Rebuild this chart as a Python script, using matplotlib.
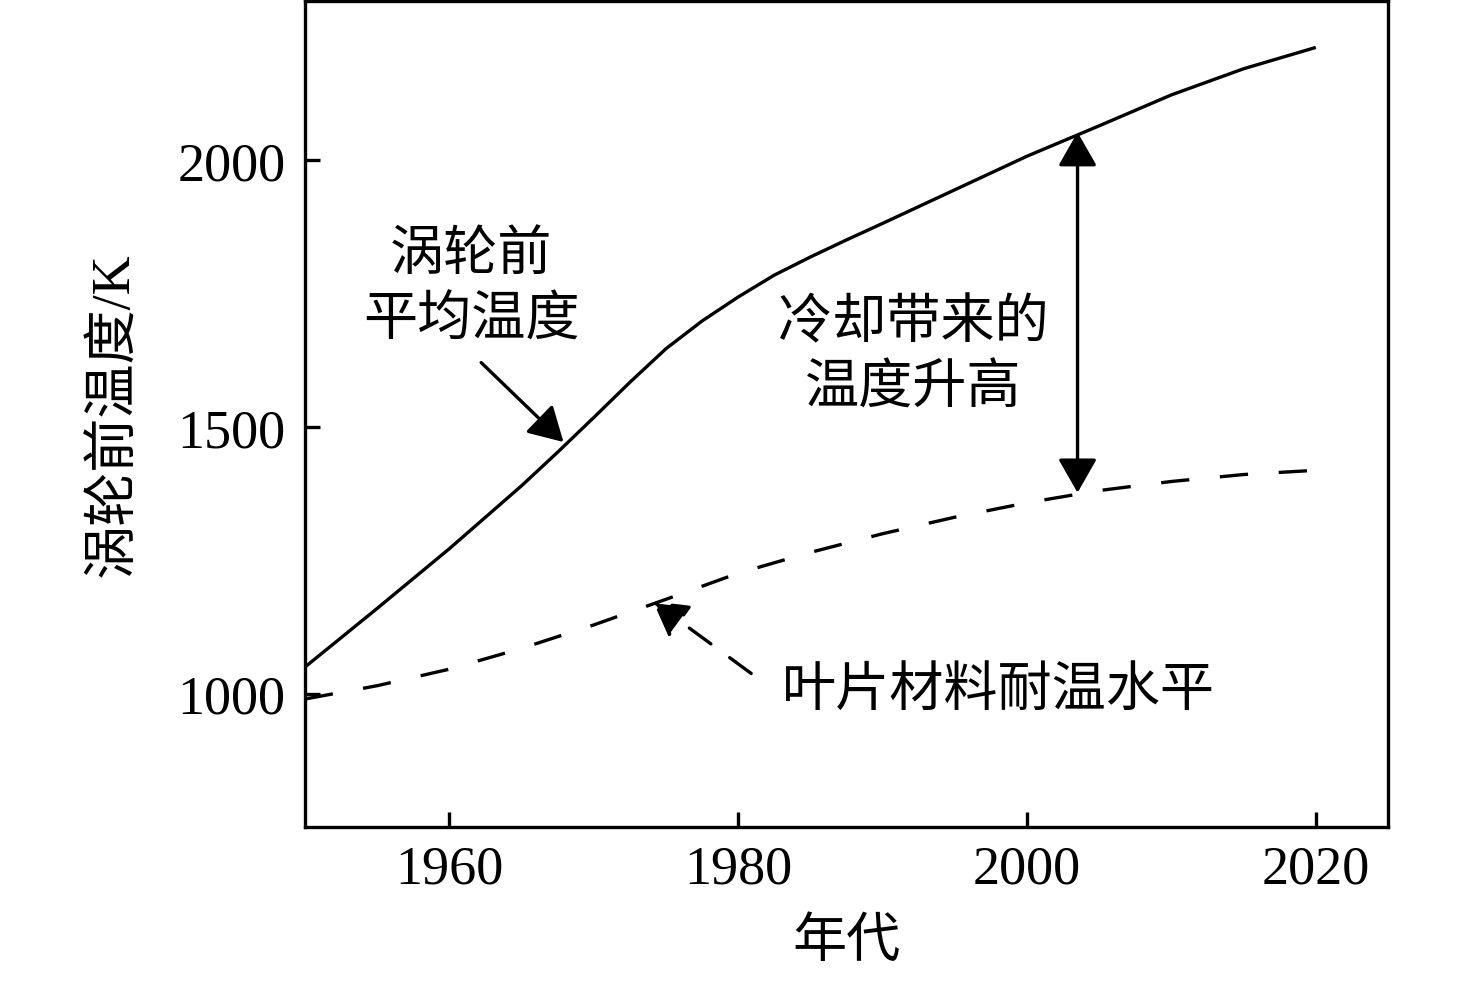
import matplotlib
matplotlib.use("Agg")
import matplotlib.pyplot as plt

plt.rcParams['font.family'] = ['Liberation Serif', 'Noto Sans CJK SC', 'DejaVu Sans']
plt.rcParams['axes.unicode_minus'] = False

# ---- data ----
years = [1950, 1955, 1960, 1965, 1967.5, 1970, 1972.5, 1975, 1977.5, 1980,
         1982.5, 1985, 1987.5, 1990, 1995, 2000, 2005, 2010, 2015, 2020]
turbine_inlet_temp = [1050, 1160, 1272, 1390, 1453, 1518, 1584, 1647, 1699, 1744,
                      1785, 1819, 1851, 1882, 1945, 2008, 2065, 2123, 2172, 2212]

blade_years = [1950, 1955, 1960, 1965, 1970, 1975, 1980, 1985, 1990, 1995,
               2000, 2005, 2010, 2015, 2020]
blade_material_temp = [990, 1015, 1046, 1085, 1129, 1177, 1226, 1265, 1300, 1331,
                       1358, 1381, 1398, 1411, 1419]

x_ticks = [1960, 1980, 2000, 2020]
y_ticks = [1000, 1500, 2000]
x_label = '年代'
y_label = '涡轮前温度/K'
label_tit = '涡轮前\n平均温度'
label_cool = '冷却带来的\n温度升高'
label_blade = '叶片材料耐温水平'

FS = 39
LW = 2.4

fig = plt.figure(figsize=(14.76, 9.87), dpi=100)
ax = fig.add_axes([305/1476, 1 - 828/987, (1388-305)/1476, (828-1.5)/987])

ax.plot(years, turbine_inlet_temp, color='black', lw=LW, solid_capstyle='butt',
        solid_joinstyle='round')
ax.plot(blade_years, blade_material_temp, color='black', lw=LW, dashes=(8.5, 9.2))

ax.set_xlim(1950, 2025)
ax.set_ylim(750, 2300)
ax.set_xticks(x_ticks)
ax.set_yticks(y_ticks)
ax.set_xticklabels([str(t) for t in x_ticks])
ax.set_yticklabels([str(t) for t in y_ticks])
ax.tick_params(direction='in', length=11, width=LW, labelsize=FS, colors='black')
ax.tick_params(axis='y', pad=14)
ax.tick_params(axis='x', pad=12)
for s in ax.spines.values():
    s.set_linewidth(LW)
    s.set_color('black')

ax.set_xlabel(x_label, fontsize=FS)
ax.set_ylabel(y_label, fontsize=FS)
ax.xaxis.set_label_coords(0.5, -0.11)
ax.yaxis.set_label_coords(-0.152, 0.5)

# annotations
ax.text(1961.5, 1760, label_tit, fontsize=FS, ha='center', va='center', linespacing=1.4)
ax.annotate('', xy=(1967.9, 1472), xytext=(1962.2, 1621),
            arrowprops=dict(arrowstyle='-|>,head_length=1.05,head_width=0.6',
                            mutation_scale=20, color='black', lw=LW,
                            shrinkA=0, shrinkB=0))

ax.text(1992.1, 1632, label_cool, fontsize=FS, ha='center', va='center', linespacing=1.4)
ax.annotate('', xy=(2003.5, 2053), xytext=(2003.5, 1377),
            arrowprops=dict(arrowstyle='<|-|>,head_length=1.05,head_width=0.6',
                            mutation_scale=20, color='black', lw=LW,
                            shrinkA=0, shrinkB=0))

ax.text(1998.0, 1004, label_blade, fontsize=FS, ha='center', va='center')
ax.annotate('', xy=(1974.1, 1173), xytext=(1980.9, 1038),
            arrowprops=dict(arrowstyle='-|>,head_length=1.05,head_width=0.6',
                            mutation_scale=20, color='black', lw=LW,
                            linestyle=(0, (8, 7)),
                            shrinkA=0, shrinkB=0))

fig.savefig('out.png', dpi=100, facecolor='white')
